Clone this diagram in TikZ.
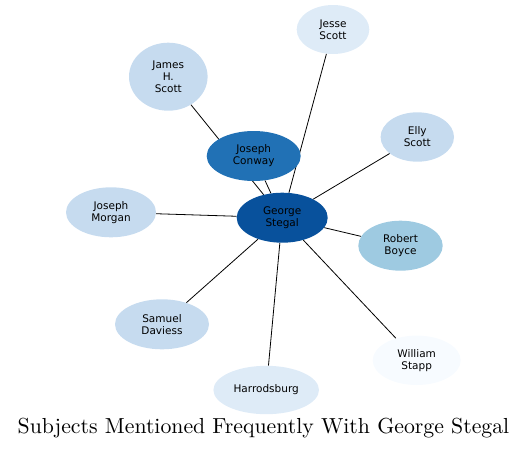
\documentclass[tikz,border=0pt]{standalone}
\usepackage{fontspec}
\newfontfamily\dvsans{DejaVu Sans}
\usetikzlibrary{shapes.geometric,backgrounds}
\definecolor{cA}{HTML}{08519C}
\definecolor{cB}{HTML}{2171B5}
\definecolor{cC}{HTML}{9ECAE1}
\definecolor{cD}{HTML}{C6DBEF}
\definecolor{cE}{HTML}{DEEBF7}
\definecolor{cF}{HTML}{F7FBFF}
\tikzset{
  nd/.style={ellipse, draw=none, inner sep=0pt, align=center, text=black,
    font=\dvsans\fontsize{10.5}{12}\selectfont},
  edge/.style={draw=black, line width=0.8pt}
}
\begin{document}
\begin{tikzpicture}[x=1pt,y=-1pt]
\useasboundingbox (0,0) rectangle (527,450);
\node[nd, fill=cA, minimum width=91pt, minimum height=50pt] (george) at (282.2,217.7) {George\\Stegal};
\node[nd, fill=cB, minimum width=94pt, minimum height=50pt] (conway) at (253.7,156) {Joseph\\Conway};
\node[nd, fill=cE, minimum width=72.6pt, minimum height=49pt] (jesse) at (333,29.5) {Jesse\\Scott};
\node[nd, fill=cD, minimum width=78.6pt, minimum height=68pt] (james) at (168.3,76.7) {James\\H.\\Scott};
\node[nd, fill=cD, minimum width=73.4pt, minimum height=49.4pt] (elly) at (417.3,137) {Elly\\Scott};
\node[nd, fill=cD, minimum width=90pt, minimum height=50pt] (morgan) at (111,212.3) {Joseph\\Morgan};
\node[nd, fill=cC, minimum width=84.4pt, minimum height=50pt] (boyce) at (400.5,245.7) {Robert\\Boyce};
\node[nd, fill=cD, minimum width=94pt, minimum height=50pt] (samuel) at (162,324.3) {Samuel\\Daviess};
\node[nd, fill=cE, minimum width=105.6pt, minimum height=48.4pt] (harrod) at (266.2,390) {Harrodsburg};
\node[nd, fill=cF, minimum width=88pt, minimum height=49.4pt] (stapp) at (416.7,360.3) {William\\Stapp};
\node[inner sep=0pt] (title) at (263.5,428) {\scalebox{2.176}{\fontsize{10}{12}\selectfont Subjects Mentioned Frequently With George Stegal}};
\begin{scope}[on background layer]
\foreach \n in {conway,jesse,james,elly,morgan,boyce,samuel,harrod,stapp}
  \draw[edge] (george) -- (\n);
\end{scope}
\end{tikzpicture}
\end{document}
